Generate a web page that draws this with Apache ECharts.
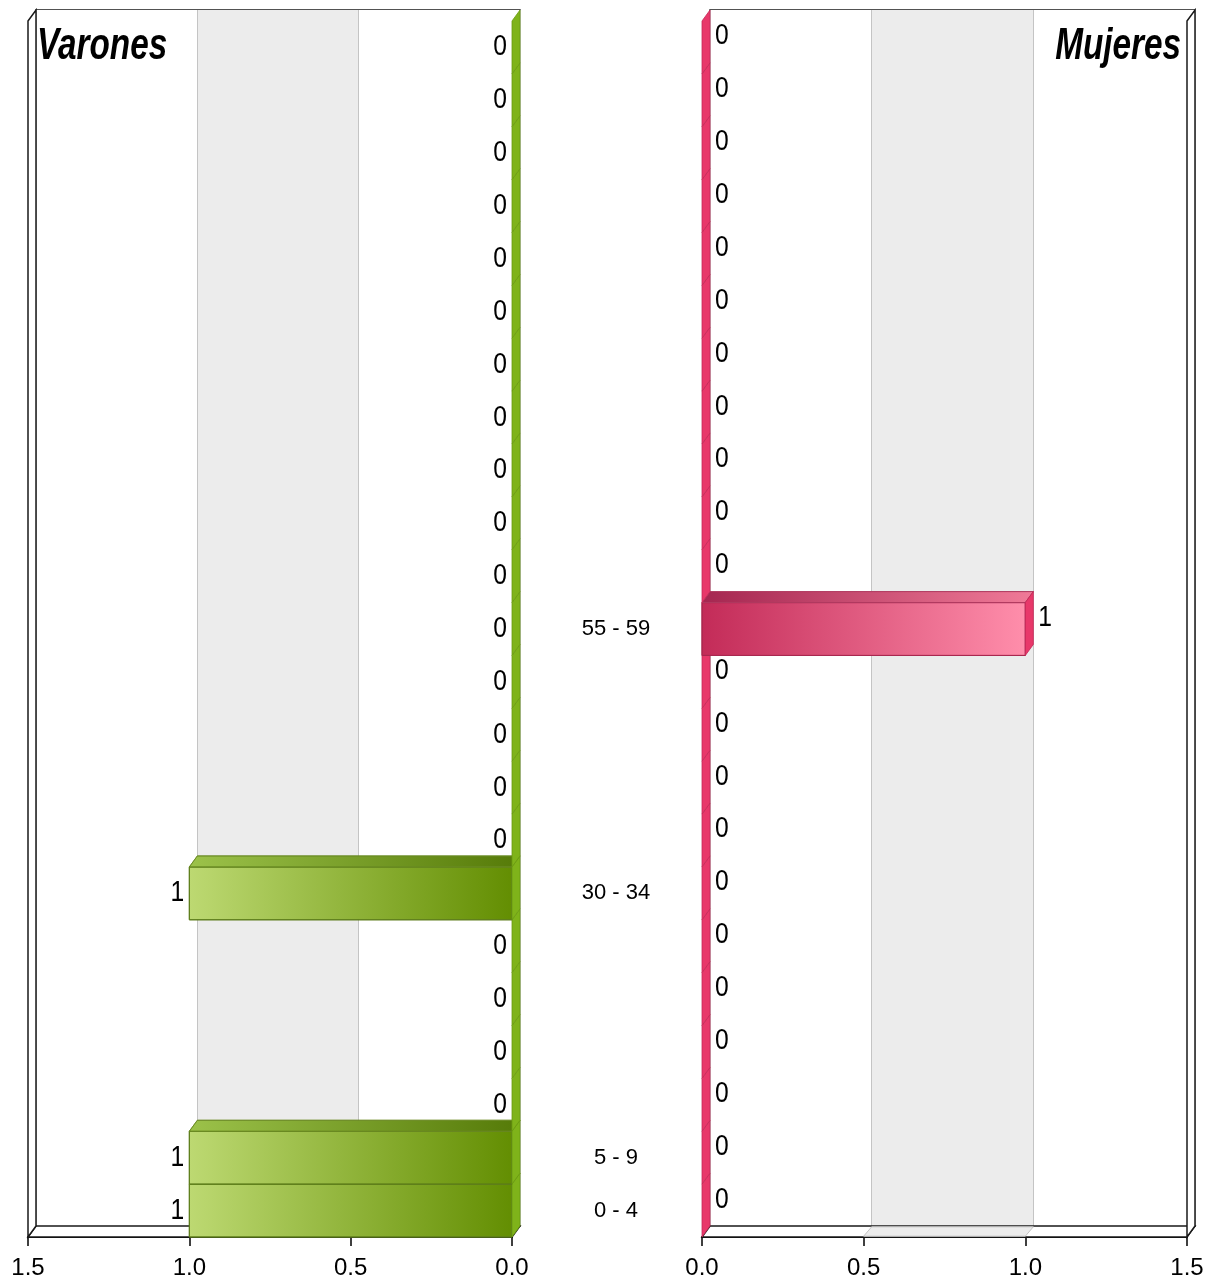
<!DOCTYPE html>
<html><head><meta charset="utf-8">
<script src="https://cdn.jsdelivr.net/npm/echarts@6/dist/echarts.min.js"></script>
<style>html,body{margin:0;padding:0;background:#fff}#c{width:1208px;height:1284px}</style>
</head><body><div id="c"></div>
<script>
// ---- data ----
const categories = ['0 - 4','5 - 9','10 - 14','15 - 19','20 - 24','25 - 29','30 - 34','35 - 39','40 - 44','45 - 49','50 - 54','55 - 59','60 - 64','65 - 69','70 - 74','75 - 79','80 - 84','85 - 89','90 - 94','95 - 99','100 - 104','105 - 109','110 - 114'];
const varones = [1,1,0,0,0,0,1,0,0,0,0,0,0,0,0,0,0,0,0,0,0,0,0];
const mujeres = [0,0,0,0,0,0,0,0,0,0,0,1,0,0,0,0,0,0,0,0,0,0,0];
const titles = ['Varones','Mujeres'];
const axisMin = 0, axisMax = 1.5, axisStep = 0.5;

const FONT = "'Liberation Sans',Arial,sans-serif";
const DX = 8, DY = 11; // depth offset

const L = {fl:28, fw:484, bl:36};
const R = {fl:702, fw:485, bl:710};
const BT = 10, FT = BT + DY, FH = 1216;

function make3D(side){
  const green = side === 'L';
  return function(params, api){
    const v = api.value(0), c = api.value(1);
    const p0 = api.coord([0, c]), p1 = api.coord([v, c]);
    const h = api.size([0, 1])[1];
    const yT = p0[1] - h/2, yB = p0[1] + h/2;
    const xl = Math.min(p0[0], p1[0]), xr = Math.max(p0[0], p1[0]);
    const ch = [];
    if (xr - xl > 0.5) {
      ch.push({type:'rect', shape:{x:xl, y:yT, width:xr-xl, height:h},
        style:{fill:{type:'linear',x:0,y:0,x2:1,y2:0,colorStops: green ?
          [{offset:0,color:'#bdd972'},{offset:1,color:'#638e02'}] :
          [{offset:0,color:'#c32b58'},{offset:1,color:'#ff8eab'}]},
          stroke: green ? '#5d7d1a' : '#a8284f', lineWidth:1}});
      ch.push({type:'polygon', shape:{points:[[xl,yT],[xr,yT],[xr+DX,yT-DY],[xl+DX,yT-DY]]},
        style:{fill:{type:'linear',x:0,y:0,x2:1,y2:0,colorStops: green ?
          [{offset:0,color:'#9cc24a'},{offset:1,color:'#557a08'}] :
          [{offset:0,color:'#a52650'},{offset:1,color:'#f07a98'}]},
          stroke: green ? '#6a8a22' : '#b03a60', lineWidth:0.8}});
    }
    ch.push({type:'polygon', shape:{points:[[xr,yT],[xr+DX,yT-DY],[xr+DX,yB-DY],[xr,yB]]},
      style:{fill: green ? '#7fb31a' : '#e8386a', stroke: green ? '#6b9a12' : '#c42a58', lineWidth:0.8}});
    const t = {type:'text', scaleX:0.85, style:{text:String(v), x:0, y:0, verticalAlign:'middle',
      font:'29px ' + FONT, fill:'#000'}};
    if (green) { t.x = p1[0]-5; t.y = p0[1]; t.style.align = 'right'; }
    else { t.x = p1[0]+13; t.y = p0[1]-11; t.style.align = 'left'; }
    ch.push(t);
    return {type:'group', children: ch};
  };
}

function backX(grid, inverse){
  return {type:'value', gridIndex:grid, min:axisMin, max:axisMax, interval:axisStep, inverse:inverse,
    axisLine:{show:false}, axisTick:{show:false}, axisLabel:{show:false},
    splitLine:{show:true, lineStyle:{color:'#c4c4c4', width:1}},
    splitArea:{show:true, areaStyle:{color:['#ffffff','#ececec']}}};
}
function frontX(grid, inverse){
  return {type:'value', gridIndex:grid, min:axisMin, max:axisMax, interval:axisStep, inverse:inverse,
    axisLine:{show:true, onZero:false, lineStyle:{color:'#000', width:2}},
    axisTick:{show:true, length:9, lineStyle:{color:'#000', width:1.5}},
    axisLabel:{show:true, margin:19, formatter:v=>v.toFixed(1), fontFamily:FONT, fontSize:24, color:'#000'},
    splitLine:{show:false}, splitArea:{show:false}};
}
function catY(grid, showLabels){
  return {type:'category', gridIndex:grid, data:categories, position:'right',
    axisLine:{show:false}, axisTick:{show:false}, splitLine:{show:false},
    axisLabel: showLabels ? {show:true, align:'center', margin:104, fontFamily:FONT, fontSize:22, color:'#000',
      interval:0,
      formatter:(val, idx)=> (varones[idx] || mujeres[idx]) ? val : ''} : {show:false}};
}

const option = {
  animation:false,
  backgroundColor:'#fff',
  grid:[
    {left:L.bl, top:BT, width:L.fw, height:FH, show:true, backgroundColor:'#fff', borderColor:'#1a1a1a', borderWidth:1.5, containLabel:false, outerBoundsMode:'none'},
    {left:R.bl, top:BT, width:R.fw, height:FH, show:true, backgroundColor:'#fff', borderColor:'#1a1a1a', borderWidth:1.5, containLabel:false, outerBoundsMode:'none'},
    {left:L.fl, top:FT, width:L.fw, height:FH, containLabel:false, outerBoundsMode:'none'},
    {left:R.fl, top:FT, width:R.fw, height:FH, containLabel:false, outerBoundsMode:'none'}
  ],
  xAxis:[backX(0,true), backX(1,false), frontX(2,true), frontX(3,false)],
  yAxis:[catY(0,false), catY(1,false), catY(2,true), catY(3,false)],
  series:[
    {type:'custom', name:titles[0], xAxisIndex:2, yAxisIndex:2, z:5, clip:false,
      renderItem:make3D('L'), encode:{x:0, y:1}, data:varones.map((v,i)=>[v,i])},
    {type:'custom', name:titles[1], xAxisIndex:3, yAxisIndex:3, z:5, clip:false,
      renderItem:make3D('R'), encode:{x:0, y:1}, data:mujeres.map((v,i)=>[v,i])}
  ]
};

const chart = echarts.init(document.getElementById('c'), null, {renderer:'canvas'});
chart.setOption(option);

// decorative side faces, floors and titles, placed with the library's scales
function px(axisIdx, val){ return chart.convertToPixel({xAxisIndex:axisIdx}, val); }
const FB = FT + FH, BB = BT + FH;
const g = [];
const stroke = {stroke:'#1a1a1a', lineWidth:1.5};
function floor(frontAxis, outerLeft){
  const f0 = px(frontAxis, axisMin), f1 = px(frontAxis, axisMax);
  const a = Math.min(f0,f1), b = Math.max(f0,f1);
  g.push({type:'polygon', z:1, shape:{points:[[a,FB],[b,FB],[b+DX,BB],[a+DX,BB]]}, style:Object.assign({fill:'#fff'}, stroke)});
  const s0 = px(frontAxis, axisStep), s1 = px(frontAxis, 2*axisStep);
  const c = Math.min(s0,s1), d = Math.max(s0,s1);
  g.push({type:'polygon', z:1, shape:{points:[[c,FB-0.8],[d,FB-0.8],[d+DX,BB+0.8],[c+DX,BB+0.8]]}, style:{fill:'#ececec', stroke:'#c4c4c4', lineWidth:1}});
  const x = outerLeft ? a : b;
  g.push({type:'polygon', z:1, shape:{points:[[x,FT],[x+DX,BT],[x+DX,BB],[x,FB]]}, style:Object.assign({fill:'#fff'}, stroke)});
}
floor(2, true);
floor(3, false);
const titleFont = 'italic bold 45px ' + FONT;
g.push({type:'text', z:10, x:37, y:47, scaleX:0.74, style:{text:titles[0], x:0, y:0, align:'left', verticalAlign:'middle', font:titleFont, fill:'#000'}});
g.push({type:'text', z:10, x:1181, y:47, scaleX:0.74, style:{text:titles[1], x:0, y:0, align:'right', verticalAlign:'middle', font:titleFont, fill:'#000'}});
chart.setOption({graphic:{elements:g}});
</script>
</body></html>
